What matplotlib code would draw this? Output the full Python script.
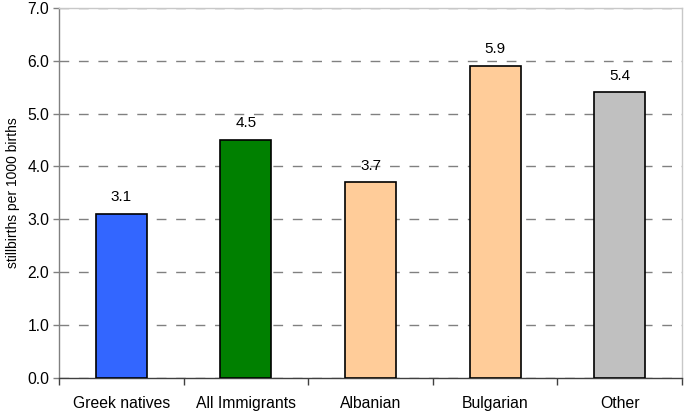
import matplotlib.pyplot as plt
import numpy as np

plt.rcParams['font.family'] = ['Liberation Sans', 'DejaVu Sans']

categories = ['Greek natives', 'All Immigrants', 'Albanian', 'Bulgarian', 'Other']
values = [3.1, 4.5, 3.7, 5.9, 5.4]
labels = ['3.1', '4.5', '3.7', '5.9', '5.4']
colors = ['#3366FF', '#008000', '#FFCC99', '#FFCC99', '#C0C0C0']

fig = plt.figure(figsize=(6.85, 4.12), dpi=100)
ax = fig.add_axes([59/685, 1 - 378/412, (682-59)/685, (378-7.7)/412])

x = np.arange(len(categories))
ax.bar(x, values, width=0.41, color=colors, edgecolor='black', linewidth=1.2, zorder=3)

for xi, v, t in zip(x, values, labels):
    ax.text(xi, v + 0.18, t, ha='center', va='bottom', fontsize=11)

ax.set_xlim(-0.5, len(categories) - 0.5)
ax.set_ylim(0, 7)
ax.set_yticks(np.arange(0, 7.1, 1.0))
ax.set_yticklabels([f'{t:.1f}' for t in np.arange(0, 7.1, 1.0)], fontsize=11.3)

ax.set_xticks(x)
ax.set_xticklabels(categories, fontsize=11.3)
ax.tick_params(axis='x', length=0, pad=13)
ax.set_xticks(np.arange(-0.5, len(categories) + 0.5, 1.0), minor=True)
ax.tick_params(axis='x', which='minor', length=5, width=1, color='#404040', direction='out')
ax.tick_params(axis='y', length=4, width=1, color='#808080', direction='out', pad=3)

ax.yaxis.grid(True, linestyle=(0, (7, 7)), color='#808080', linewidth=1, zorder=0)
ax.set_axisbelow(True)

ax.spines['left'].set_color('#808080')
ax.spines['bottom'].set_color('#404040')
ax.spines['top'].set_color('#C8C8C8')
ax.spines['right'].set_color('#C8C8C8')
for s in ax.spines.values():
    s.set_linewidth(1)

ax.set_ylabel('stillbirths per 1000 births', fontsize=10, labelpad=5)

fig.savefig('out.png', dpi=100)
